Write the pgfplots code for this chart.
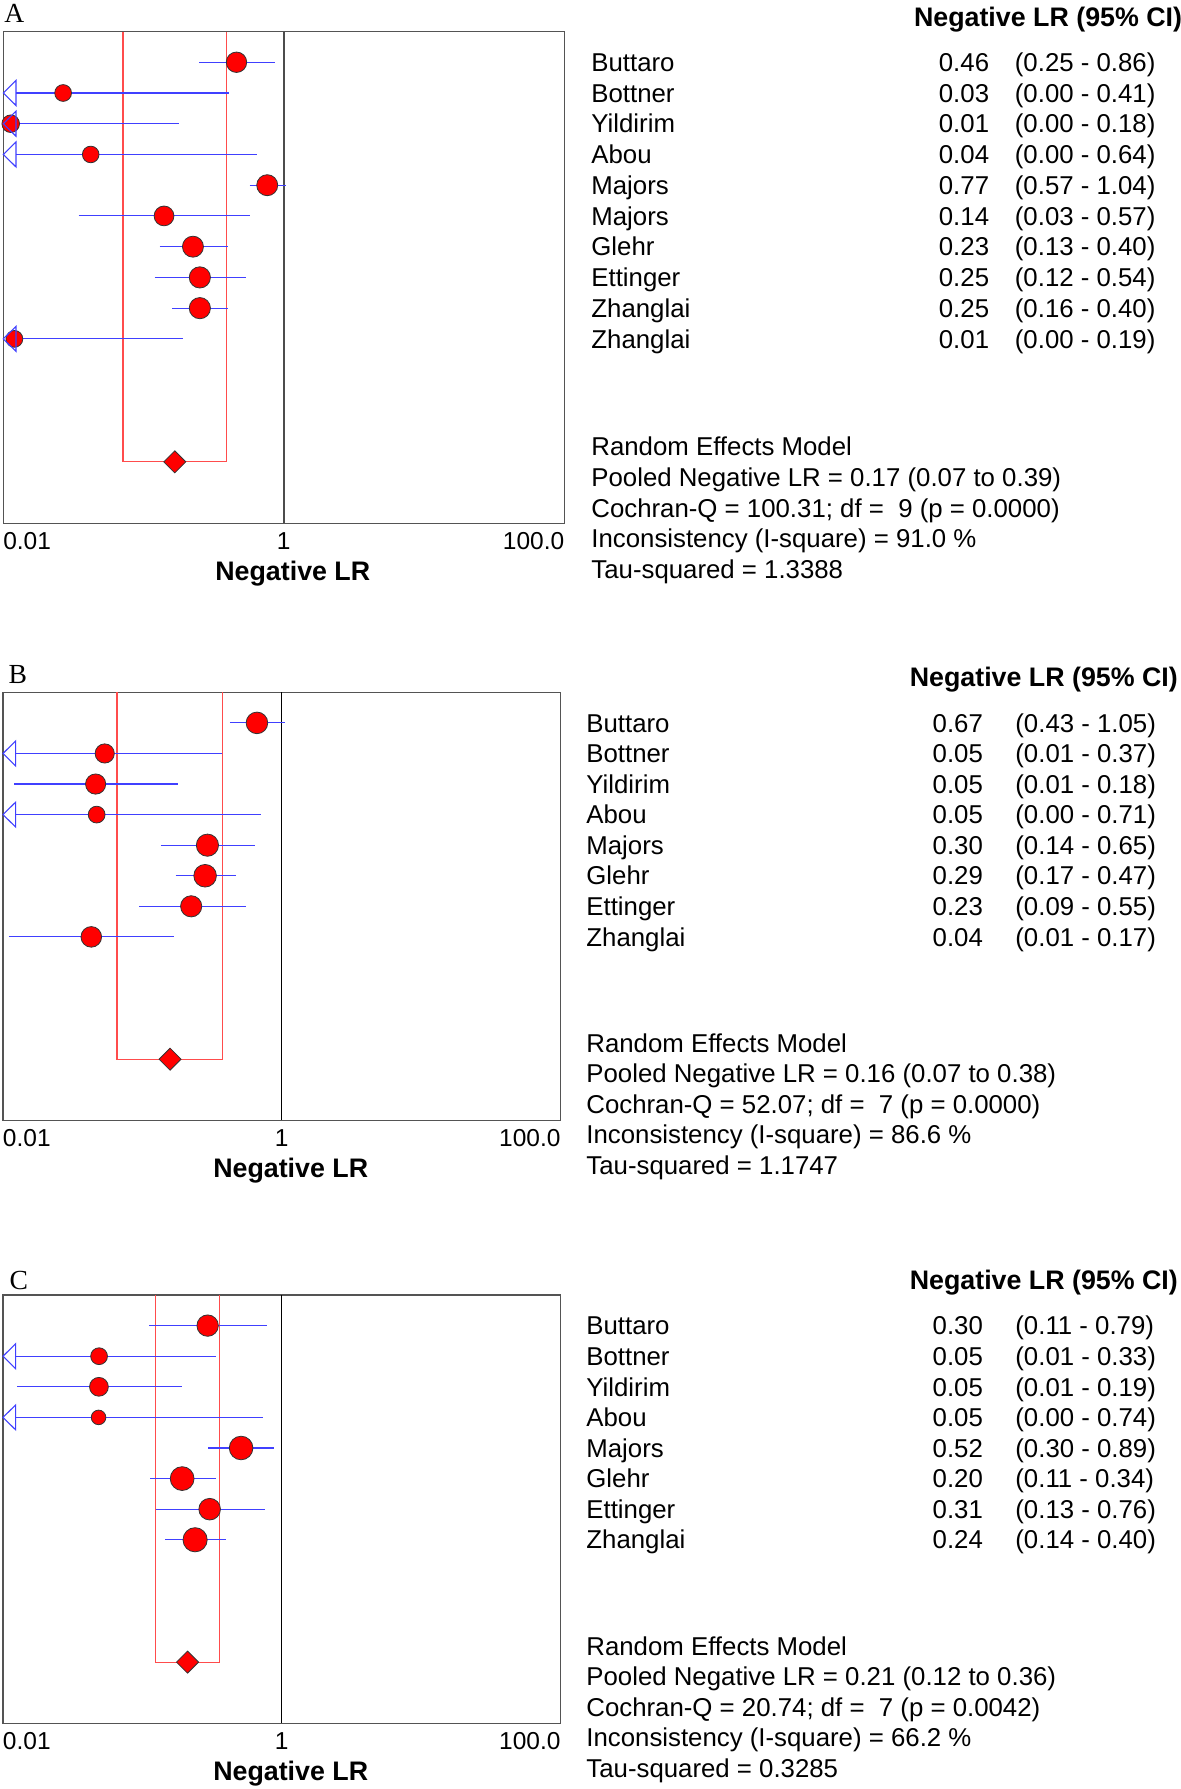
\documentclass[border=0pt]{standalone}
\usepackage{pgfplots}
\pgfplotsset{compat=1.18}
\usepackage{fontspec}
\setmainfont{Liberation Sans}
\newfontfamily\serifletter{Liberation Serif}
\definecolor{ciblue}{rgb}{0.25,0.25,1}
\definecolor{poolred}{rgb}{1,0.3,0.3}
\definecolor{boxgray}{gray}{0.33}
\newcommand{\txt}{\fontsize{12.9}{15}\selectfont}
\newcommand{\hdr}{\fontsize{13.4}{16}\selectfont\bfseries}
\newcommand{\lett}{\fontsize{13.8}{16}\selectfont\serifletter}
\newcommand{\tickfont}{\fontsize{12.25}{14}\selectfont}

\pgfdeclareplotmark{larrow}{%
  \pgfpathmoveto{\pgfqpoint{0pt}{0pt}}%
  \pgfpathlineto{\pgfqpoint{6.35pt}{6.25pt}}%
  \pgfpathlineto{\pgfqpoint{6.35pt}{-6.25pt}}%
  \pgfpathclose
  \pgfusepathqstroke}

\pgfplotsset{
  /pgfplots/nlrax/.style={
    scale only axis, clip=false,
    xmin=0.01, xmax=100, y dir=reverse, ymin=0,
    xtick={0.01,1,100},
    xticklabels={\makebox[0pt][l]{0.01},1,\makebox[0pt][r]{100.0}},
    ytick=\empty, major tick length=0pt,
    axis line style={boxgray, line width=0.6pt},
    xticklabel style={anchor=base, yshift=-13pt, inner sep=0pt, font=\tickfont},
    xlabel={Negative LR},
    xlabel style={at={(axis description cs:0.5,0)}, anchor=base, inner sep=0pt,
                  yshift=-28.75pt, xshift=4.5pt, font=\hdr},
  },
}
% row, estimate, lower, upper, marker radius (pt)
\newcommand{\study}[5]{%
  \addplot[only marks, mark=*, mark size=#5pt, mark options={fill=red, draw=black!80, line width=0.4pt}] coordinates {(#2,#1)};
  \addplot[ciblue, line width=0.55pt] coordinates {(#3,#1) (#4,#1)};
}
\newcommand{\arrowmark}[1]{%
  \addplot[only marks, ciblue, mark=larrow, mark options={ciblue, line width=0.55pt}] coordinates {(0.01,#1)};
}
\newcommand{\pooled}[4]{% row, lo, hi, est
  \addplot[poolred, line width=0.55pt] coordinates {(#2,0) (#2,#1) (#3,#1) (#3,0)};
  \addplot[only marks, mark=square*, mark size=3.9pt,
           mark options={rotate=45, fill=red, draw=black!80, line width=0.4pt}] coordinates {(#4,#1)};
}
% row, name, value, ci, x name, x value (right), x ci
\newcommand{\trow}[7]{%
  \node[inner sep=0pt, font=\txt, anchor=base west, xshift=#5pt, yshift=-4.6pt] at (axis cs:0.01,#1) {#2};
  \node[inner sep=0pt, font=\txt, anchor=base east, xshift=#6pt, yshift=-4.6pt] at (axis cs:0.01,#1) {#3};
  \node[inner sep=0pt, font=\txt, anchor=base west, xshift=#7pt, yshift=-4.6pt] at (axis cs:0.01,#1) {#4};
}
\newcommand{\bline}[3]{%
  \node[inner sep=0pt, font=\txt, anchor=base west, xshift=#2pt, yshift=-4.6pt] at (axis cs:0.01,#1) {#3};
}

\begin{document}
\begin{tikzpicture}
\useasboundingbox (0pt,0pt) rectangle (590.5pt,-894.5pt);

% ---------------- Panel A ----------------
\begin{axis}[xmode=log, nlrax, anchor=north west, at={(1.65pt,-15.75pt)}, width=280.5pt, height=245.9pt, ymax=16]
  \addplot[gray!60!black, line width=0.75pt] coordinates {(1,0) (1,16)};
  \pooled{14}{0.0714}{0.388}{0.167}
  \study{1}{0.46}{0.25}{0.86}{5.1}
  \study{2}{0.0267}{0.0123}{0.41}{4.2}
  \study{3}{0.0113}{0.0123}{0.18}{4.4}
  \study{4}{0.042}{0.0123}{0.64}{4.15}
  \study{5}{0.762}{0.57}{1.04}{5.25}
  \study{6}{0.140}{0.0345}{0.57}{4.95}
  \study{7}{0.225}{0.13}{0.40}{5.25}
  \study{8}{0.252}{0.12}{0.54}{5.3}
  \study{9}{0.252}{0.16}{0.40}{5.3}
  \study{10}{0.012}{0.0123}{0.19}{4.2}
  \arrowmark{2}\arrowmark{3}\arrowmark{4}\arrowmark{10}
  \node[anchor=base west, inner sep=0pt, font=\lett, xshift=0.4pt, yshift=4.4pt] at (axis cs:0.01,0) {A};
  \node[anchor=base east, inner sep=0pt, font=\hdr, xshift=589.6pt, yshift=2.6pt] at (axis cs:0.01,0) {Negative LR (95\% CI)};
  \trow{1}{Buttaro}{0.46}{(0.25 - 0.86)}{293.85}{493.1}{505.6}
  \trow{2}{Bottner}{0.03}{(0.00 - 0.41)}{293.85}{493.1}{505.6}
  \trow{3}{Yildirim}{0.01}{(0.00 - 0.18)}{293.85}{493.1}{505.6}
  \trow{4}{Abou}{0.04}{(0.00 - 0.64)}{293.85}{493.1}{505.6}
  \trow{5}{Majors}{0.77}{(0.57 - 1.04)}{293.85}{493.1}{505.6}
  \trow{6}{Majors}{0.14}{(0.03 - 0.57)}{293.85}{493.1}{505.6}
  \trow{7}{Glehr}{0.23}{(0.13 - 0.40)}{293.85}{493.1}{505.6}
  \trow{8}{Ettinger}{0.25}{(0.12 - 0.54)}{293.85}{493.1}{505.6}
  \trow{9}{Zhanglai}{0.25}{(0.16 - 0.40)}{293.85}{493.1}{505.6}
  \trow{10}{Zhanglai}{0.01}{(0.00 - 0.19)}{293.85}{493.1}{505.6}
  \bline{13.5}{293.85}{Random Effects Model}
  \bline{14.5}{293.85}{Pooled Negative LR = 0.17 (0.07 to 0.39)}
  \bline{15.5}{293.85}{Cochran-Q = 100.31; df =\ \ 9 (p = 0.0000)}
  \bline{16.5}{293.85}{Inconsistency (I-square) = 91.0 \%}
  \bline{17.5}{293.85}{Tau-squared = 1.3388}
\end{axis}

% ---------------- Panel B ----------------
\begin{axis}[xmode=log, nlrax, anchor=north west, at={(1.5pt,-346.15pt)}, width=278.75pt, height=214pt, ymax=14]
  \addplot[black, line width=0.45pt] coordinates {(1,0) (1,14)};
  \pooled{12}{0.0658}{0.374}{0.158}
  \study{1}{0.664}{0.425}{1.05}{5.4}
  \study{2}{0.0537}{0.0123}{0.37}{4.8}
  \study{3}{0.0462}{0.012}{0.18}{5.05}
  \study{4}{0.047}{0.0123}{0.71}{4.2}
  \study{5}{0.293}{0.135}{0.644}{5.55}
  \study{6}{0.282}{0.173}{0.466}{5.65}
  \study{7}{0.224}{0.0946}{0.553}{5.3}
  \study{8}{0.043}{0.011}{0.17}{5.15}
  \arrowmark{2}\arrowmark{4}
  \node[anchor=base west, inner sep=0pt, font=\lett, xshift=2.6pt, yshift=4.5pt] at (axis cs:0.01,0) {B};
  \node[anchor=base east, inner sep=0pt, font=\hdr, xshift=587.65pt, yshift=2.75pt] at (axis cs:0.01,0) {Negative LR (95\% CI)};
  \trow{1}{Buttaro}{0.67}{(0.43 - 1.05)}{291.5}{490.15}{506}
  \trow{2}{Bottner}{0.05}{(0.01 - 0.37)}{291.5}{490.15}{506}
  \trow{3}{Yildirim}{0.05}{(0.01 - 0.18)}{291.5}{490.15}{506}
  \trow{4}{Abou}{0.05}{(0.00 - 0.71)}{291.5}{490.15}{506}
  \trow{5}{Majors}{0.30}{(0.14 - 0.65)}{291.5}{490.15}{506}
  \trow{6}{Glehr}{0.29}{(0.17 - 0.47)}{291.5}{490.15}{506}
  \trow{7}{Ettinger}{0.23}{(0.09 - 0.55)}{291.5}{490.15}{506}
  \trow{8}{Zhanglai}{0.04}{(0.01 - 0.17)}{291.5}{490.15}{506}
  \bline{11.47}{291.5}{Random Effects Model}
  \bline{12.47}{291.5}{Pooled Negative LR = 0.16 (0.07 to 0.38)}
  \bline{13.47}{291.5}{Cochran-Q = 52.07; df =\ \ 7 (p = 0.0000)}
  \bline{14.47}{291.5}{Inconsistency (I-square) = 86.6 \%}
  \bline{15.47}{291.5}{Tau-squared = 1.1747}
\end{axis}

% ---------------- Panel C ----------------
\begin{axis}[xmode=log, nlrax, anchor=north west, at={(1.5pt,-647.5pt)}, width=278.75pt, height=214.15pt, ymax=14]
  \addplot[black, line width=0.45pt] coordinates {(1,0) (1,14)};
  \pooled{12}{0.124}{0.358}{0.211}
  \study{1}{0.294}{0.112}{0.783}{5.35}
  \study{2}{0.0489}{0.0123}{0.335}{4.2}
  \study{3}{0.0488}{0.0127}{0.191}{4.7}
  \study{4}{0.0485}{0.0123}{0.736}{3.65}
  \study{5}{0.511}{0.296}{0.885}{5.9}
  \study{6}{0.193}{0.114}{0.339}{5.95}
  \study{7}{0.304}{0.125}{0.755}{5.4}
  \study{8}{0.239}{0.146}{0.40}{6.05}
  \arrowmark{2}\arrowmark{4}
  \node[anchor=base west, inner sep=0pt, font=\lett, xshift=3.1pt, yshift=3pt] at (axis cs:0.01,0) {C};
  \node[anchor=base east, inner sep=0pt, font=\hdr, xshift=587.65pt, yshift=2.85pt] at (axis cs:0.01,0) {Negative LR (95\% CI)};
  \trow{1}{Buttaro}{0.30}{(0.11 - 0.79)}{291.5}{490.15}{506}
  \trow{2}{Bottner}{0.05}{(0.01 - 0.33)}{291.5}{490.15}{506}
  \trow{3}{Yildirim}{0.05}{(0.01 - 0.19)}{291.5}{490.15}{506}
  \trow{4}{Abou}{0.05}{(0.00 - 0.74)}{291.5}{490.15}{506}
  \trow{5}{Majors}{0.52}{(0.30 - 0.89)}{291.5}{490.15}{506}
  \trow{6}{Glehr}{0.20}{(0.11 - 0.34)}{291.5}{490.15}{506}
  \trow{7}{Ettinger}{0.31}{(0.13 - 0.76)}{291.5}{490.15}{506}
  \trow{8}{Zhanglai}{0.24}{(0.14 - 0.40)}{291.5}{490.15}{506}
  \bline{11.47}{291.5}{Random Effects Model}
  \bline{12.47}{291.5}{Pooled Negative LR = 0.21 (0.12 to 0.36)}
  \bline{13.47}{291.5}{Cochran-Q = 20.74; df =\ \ 7 (p = 0.0042)}
  \bline{14.47}{291.5}{Inconsistency (I-square) = 66.2 \%}
  \bline{15.47}{291.5}{Tau-squared = 0.3285}
\end{axis}
\end{tikzpicture}
\end{document}
